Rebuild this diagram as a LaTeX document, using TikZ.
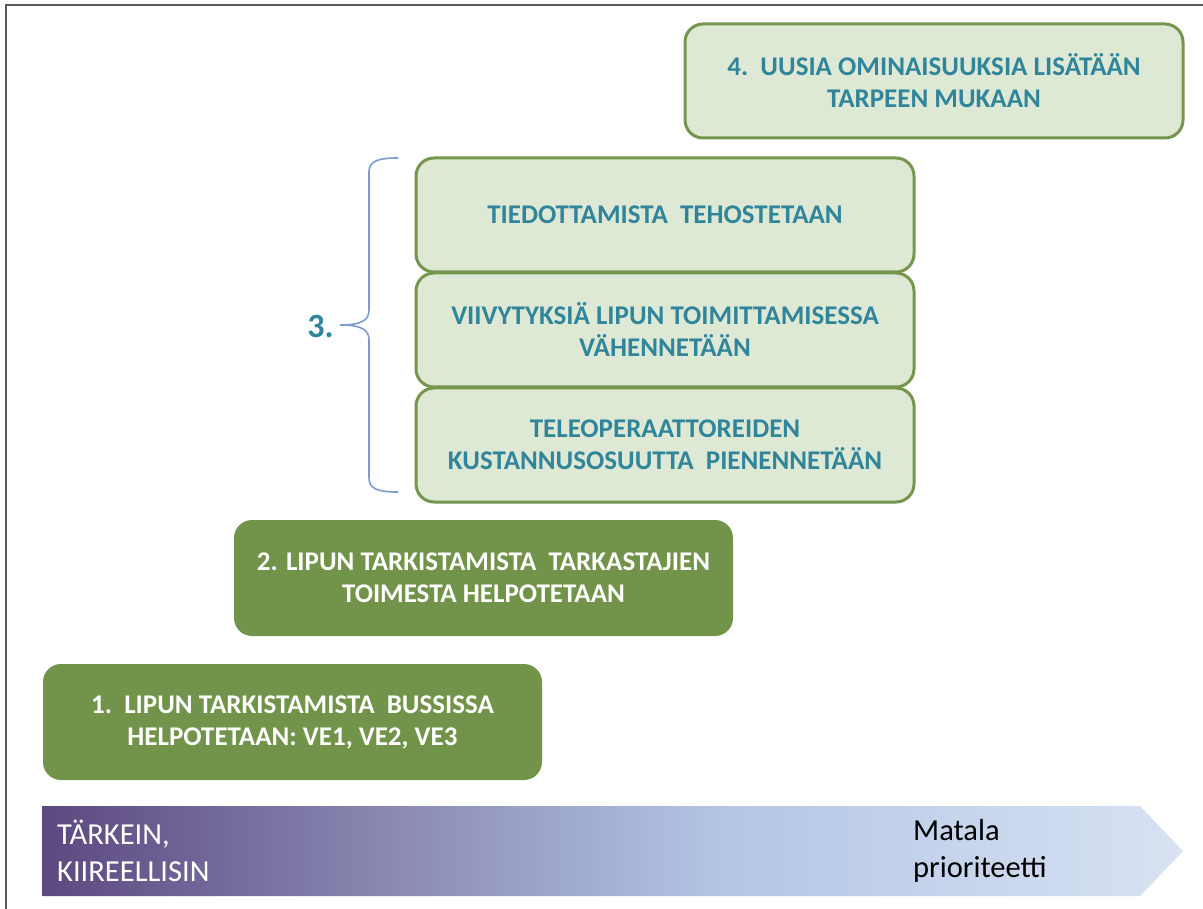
\documentclass[tikz,border=0pt]{standalone}
\usepackage{fontspec}
\setmainfont{Carlito}
\usetikzlibrary{positioning}
\definecolor{lightfill}{RGB}{222,233,213}
\definecolor{greenline}{RGB}{118,150,78}
\definecolor{darkgreen}{RGB}{113,147,74}
\definecolor{tealtext}{RGB}{49,133,155}
\definecolor{bracecol}{RGB}{122,156,208}
\definecolor{framecol}{RGB}{89,89,89}
\definecolor{sA}{RGB}{92,72,128}
\definecolor{sB}{RGB}{140,140,182}
\definecolor{sC}{RGB}{180,198,230}
\definecolor{sD}{RGB}{216,226,242}
\pgfdeclarehorizontalshading{prio}{100bp}{color(0bp)=(sA); color(25bp)=(sA); color(41bp)=(sB); color(55bp)=(sC); color(75bp)=(sD); color(100bp)=(sD)}
\tikzset{
  lightbox/.style={draw=greenline, line width=3pt, fill=lightfill, rounded corners=18pt,
    minimum width=498pt, minimum height=114pt, align=center, text=tealtext,
    font=\fontsize{27}{32}\selectfont\bfseries, inner sep=0pt},
  darkbox/.style={fill=darkgreen, rounded corners=18pt,
    minimum width=499pt, minimum height=116pt, align=center, text=white,
    font=\fontsize{27}{32}\selectfont\bfseries, inner sep=0pt},
  bracestyle/.style={draw=bracecol, line width=1.6pt},
  arrowtext/.style={align=left, inner sep=0pt, font=\fontsize{30.5}{37}\selectfont, anchor=west}
}
\begin{document}
\begin{tikzpicture}[x=1pt, y=-1pt]
\useasboundingbox (0,0) rectangle (1203,909);
\fill[white] (0,0) rectangle (1203,909);
% frame
\draw[framecol, line width=2pt] (6,909) -- (6,5) -- (1203,5);
% boxes
\node[lightbox] (b4) at (934,81) {4.\ \ UUSIA OMINAISUUKSIA LISÄTÄÄN\\TARPEEN MUKAAN};
\node[lightbox] (b3a) at (665,215) {TIEDOTTAMISTA\ \ TEHOSTETAAN};
\node[lightbox] (b3b) at (665,330) {VIIVYTYKSIÄ LIPUN TOIMITTAMISESSA\\VÄHENNETÄÄN};
\node[lightbox] (b3c) at (665,445) {TELEOPERAATTOREIDEN\\KUSTANNUSOSUUTTA\ \ PIENENNETÄÄN};
\node[darkbox] (b2) at (483.5,578) {2. LIPUN TARKISTAMISTA\ \ TARKASTAJIEN\\TOIMESTA HELPOTETAAN};
\node[darkbox] (b1) at (292.5,722) {1.\ \ LIPUN TARKISTAMISTA\ \ BUSSISSA\\HELPOTETAAN: VE1, VE2, VE3};
% brace
\coordinate (bt) at (398,158);
\coordinate (bb) at (398,492);
\coordinate (btip) at (340,325);
\draw[bracestyle] (bt) .. controls (378,158) and (369,161) .. (369,172) -- (369,310)
  .. controls (369,320) and (362,325) .. (btip)
  .. controls (362,325) and (369,330) .. (369,340) -- (369,478)
  .. controls (369,489) and (378,492) .. (bb);
\node[text=tealtext, font=\fontsize{34}{34}\selectfont\bfseries, anchor=east, inner sep=0pt] (n3) at (334,326) {3.};
% priority arrow
\shade[shading=prio] (42,806) -- (1140,806) -- (1183,851) -- (1140,896) -- (42,896) -- cycle;
\node[arrowtext, text=white] (hi) at (57,851) {TÄRKEIN,\\KIIREELLISIN};
\node[arrowtext, text=black] (lo) at (913,851) {Matala\\prioriteetti};
\end{tikzpicture}
\end{document}
